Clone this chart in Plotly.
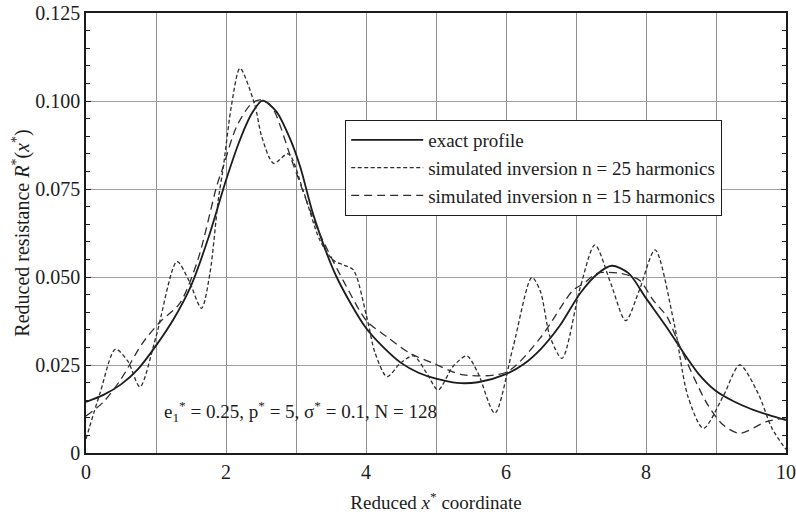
import plotly.graph_objects as go

# Exact resistance profile
x_exact = [0.0, 0.25, 0.5, 0.75, 1.0, 1.25, 1.5, 1.75, 2.0, 2.2, 2.37, 2.52,
           2.72, 2.91, 3.06, 3.25, 3.58, 4.0, 4.25, 4.5, 4.75, 5.0, 5.3, 5.6,
           6.0, 6.25, 6.5, 6.77, 7.06, 7.3, 7.51, 7.75, 8.0, 8.3, 8.58, 8.75,
           9.0, 9.25, 9.5, 9.75, 10.0]
r_exact = [0.0145, 0.0165, 0.0195, 0.0240, 0.0305, 0.0380, 0.0475, 0.0612,
           0.0775, 0.0890, 0.0965, 0.1001, 0.0970, 0.0895, 0.0813, 0.0675,
           0.0500, 0.0355, 0.0300, 0.0256, 0.0228, 0.0211, 0.0199, 0.0201,
           0.0224, 0.0252, 0.0296, 0.0362, 0.0454, 0.0508, 0.0532, 0.0511,
           0.0440, 0.0356, 0.0272, 0.0225, 0.0176, 0.0147, 0.0125, 0.0108,
           0.0093]

# Simulated inversion with 25 harmonics
x_n25 = [0.0, 0.2, 0.42, 0.6, 0.77, 1.0, 1.3, 1.47, 1.65, 1.77, 1.89, 1.96,
         2.08, 2.2, 2.41, 2.51, 2.68, 2.89, 3.1, 3.34, 3.53, 3.68, 3.82, 4.01,
         4.13, 4.3, 4.49, 4.68, 4.87, 5.03, 5.24, 5.44, 5.6, 5.84, 6.1, 6.37,
         6.49, 6.63, 6.8, 7.06, 7.27, 7.5, 7.71, 7.9, 8.13, 8.4, 8.6, 8.82,
         9.1, 9.34, 9.6, 9.8, 10.0]
r_n25 = [0.0040, 0.0170, 0.0295, 0.0260, 0.0188, 0.0330, 0.0544, 0.0490,
         0.0411, 0.0510, 0.0720, 0.0810, 0.0990, 0.1093, 0.0990, 0.0899,
         0.0823, 0.0850, 0.0747, 0.0605, 0.0548, 0.0534, 0.0520, 0.0387,
         0.0284, 0.0217, 0.0255, 0.0276, 0.0226, 0.0179, 0.0245, 0.0276,
         0.0227, 0.0113, 0.0300, 0.0499, 0.0460, 0.0330, 0.0269, 0.0470,
         0.0591, 0.0480, 0.0376, 0.0460, 0.0577, 0.0370, 0.0160, 0.0070,
         0.0160, 0.0250, 0.0170, 0.0070, 0.0010]

# Simulated inversion with 15 harmonics
x_n15 = [0.0, 0.25, 0.5, 0.8, 1.06, 1.34, 1.6, 1.87, 1.96, 2.15, 2.37, 2.5,
         2.65, 2.96, 3.3, 3.72, 4.01, 4.3, 4.63, 4.96, 5.39, 6.01, 6.49, 6.96,
         7.1, 7.3, 7.65, 7.91, 8.1, 8.3, 8.49, 8.87, 9.1, 9.34, 9.72, 10.0]
r_n15 = [0.0105, 0.0145, 0.0210, 0.0310, 0.0373, 0.0425, 0.0550, 0.0760,
         0.0813, 0.0927, 0.0994, 0.1003, 0.0985, 0.0820, 0.0640, 0.0473,
         0.0375, 0.0330, 0.0283, 0.0255, 0.0222, 0.0230, 0.0327, 0.0463,
         0.0480, 0.0510, 0.0510, 0.0490, 0.0435, 0.0387, 0.0300, 0.0141,
         0.0080, 0.0056, 0.0089, 0.0100]

y_tick_vals = [0, 0.025, 0.05, 0.075, 0.1, 0.125]
y_tick_text = ["0", "0.025", "0.050", "0.075", "0.100", "0.125"]
x_tick_vals = [0, 2, 4, 6, 8, 10]

FONT = "Liberation Serif"
INK = "#1c1c1c"

fig = go.Figure()
fig.add_trace(go.Scatter(
    x=x_exact, y=r_exact, mode="lines", name="exact profile",
    line=dict(color=INK, width=1.8, shape="spline", smoothing=0.8)))
fig.add_trace(go.Scatter(
    x=x_n25, y=r_n25, mode="lines",
    name="simulated inversion n = 25 harmonics",
    line=dict(color="#2e2e2e", width=1.3, dash="4px,2.5px",
              shape="spline", smoothing=0.8)))
fig.add_trace(go.Scatter(
    x=x_n15, y=r_n15, mode="lines",
    name="simulated inversion n = 15 harmonics",
    line=dict(color="#2e2e2e", width=1.3, dash="8px,5px",
              shape="spline", smoothing=0.8)))

fig.add_annotation(
    x=3.06, y=0.0118, xref="x", yref="y", showarrow=False,
    text="e<sub>1</sub><sup>*</sup> = 0.25, p<sup>*</sup> = 5, "
         "σ<sup>*</sup> = 0.1, N = 128",
    font=dict(family=FONT, size=19, color=INK))

fig.update_layout(
    width=796, height=517,
    margin=dict(l=86, r=10, t=13, b=64, autoexpand=False),
    paper_bgcolor="white", plot_bgcolor="white",
    font=dict(family=FONT, size=19, color=INK),
    showlegend=True,
    legend=dict(
        x=0.37, y=0.757, xanchor="left", yanchor="top",
        bgcolor="white", bordercolor=INK, borderwidth=1.2,
        font=dict(family=FONT, size=19, color=INK),
        itemwidth=72, tracegroupgap=0),
    xaxis=dict(
        range=[0, 10], tickvals=x_tick_vals, ticks="", automargin=False,
        showline=True, linecolor=INK, linewidth=1.5, mirror=True,
        showgrid=True, gridcolor="#8f8f8f", gridwidth=1,
        minor=dict(dtick=1, showgrid=True, gridcolor="#8f8f8f",
                   gridwidth=1, ticks=""),
        zeroline=False,
        title=dict(text="Reduced <i>x</i><sup>*</sup> coordinate",
                   font=dict(family=FONT, size=19, color=INK), standoff=14),
        tickfont=dict(family=FONT, size=20, color=INK)),
    yaxis=dict(
        range=[0, 0.125], tickvals=y_tick_vals, ticktext=y_tick_text,
        ticks="inside", ticklen=5, tickcolor=INK, automargin=False,
        showline=True, linecolor=INK, linewidth=1.5, mirror="allticks",
        showgrid=True, gridcolor="#a0a0a0", gridwidth=1,
        minor=dict(dtick=0.005, ticks="inside", ticklen=4, tickcolor=INK,
                   showgrid=False),
        zeroline=False,
        title=dict(text="Reduced resistance <i>R</i><sup>*</sup>(<i>x</i><sup>*</sup>)",
                   font=dict(family=FONT, size=20, color=INK), standoff=0),
        tickfont=dict(family=FONT, size=20, color=INK)),
)

fig.write_html("out.html")
